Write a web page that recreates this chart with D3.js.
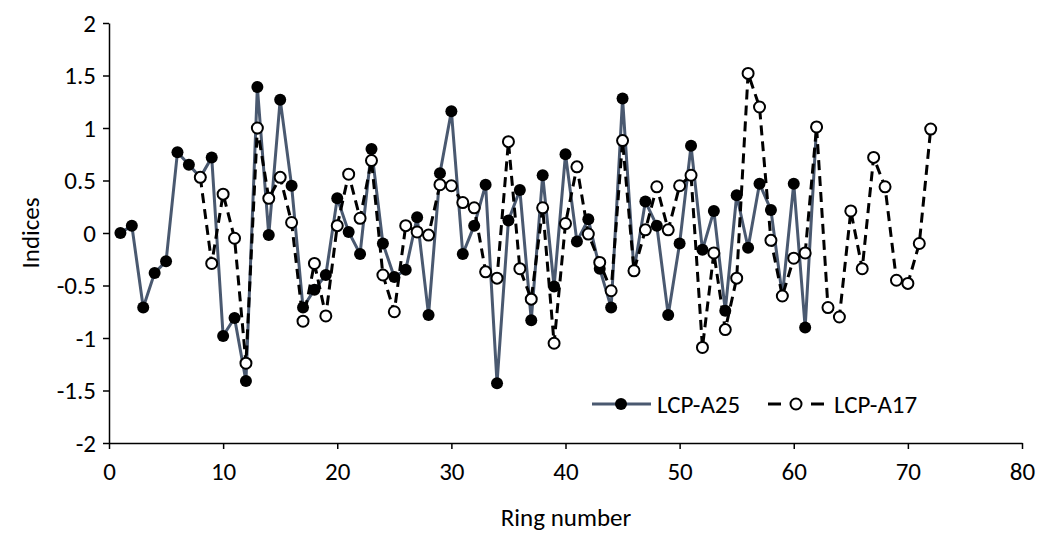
<!DOCTYPE html>
<meta charset="utf-8">
<style>
  body { margin: 0; background: #fff; }
  text { font-family: Carlito, Calibri, Lato, sans-serif; fill: #000; }
  .axis path, .axis line { stroke: #000; stroke-width: 1.5px; }
</style>
<svg width="1046" height="534"></svg>
<script src="https://d3js.org/d3.v7.min.js"></script>
<script>
// ring numbers and index values
var ringsA25 = d3.range(1, 63);
var valuesA25 = [
  0, 0.07, -0.71, -0.38, -0.27, 0.77, 0.65, 0.53, 0.72, -0.98,
  -0.81, -1.41, 1.39, -0.02, 1.27, 0.45, -0.71, -0.54, -0.40, 0.33,
  0.01, -0.20, 0.80, -0.10, -0.42, -0.35, 0.15, -0.78, 0.57, 1.16,
  -0.20, 0.07, 0.46, -1.43, 0.12, 0.41, -0.83, 0.55, -0.51, 0.75,
  -0.08, 0.13, -0.34, -0.71, 1.28, -0.36, 0.30, 0.07, -0.78, -0.10,
  0.83, -0.16, 0.21, -0.74, 0.36, -0.14, 0.47, 0.22, -0.60, 0.47,
  -0.90, 1.01
];
var ringsA17 = d3.range(8, 73);
var valuesA17 = [
  0.53, -0.29, 0.37, -0.05, -1.24, 1.00, 0.33, 0.53, 0.10, -0.84,
  -0.29, -0.79, 0.07, 0.56, 0.14, 0.69, -0.40, -0.75, 0.07, 0.01,
  -0.02, 0.46, 0.45, 0.29, 0.24, -0.37, -0.43, 0.87, -0.34, -0.63,
  0.24, -1.05, 0.09, 0.63, -0.01, -0.28, -0.55, 0.88, -0.36, 0.03,
  0.44, 0.03, 0.45, 0.55, -1.09, -0.19, -0.92, -0.43, 1.52, 1.20,
  -0.07, -0.60, -0.24, -0.19, 1.01, -0.71, -0.80, 0.21, -0.34, 0.72,
  0.44, -0.45, -0.48, -0.10, 0.99
];
var xTicks = d3.range(0, 81, 10);
var yTicks = [-2, -1.5, -1, -0.5, 0, 0.5, 1, 1.5, 2];

var svg = d3.select("svg");
var x = d3.scaleLinear().domain([0, 80]).range([109, 1022]);
var y = d3.scaleLinear().domain([-2, 2]).range([443, 23]);

var seriesA25 = ringsA25.map((r, i) => [r, valuesA25[i]]);
var seriesA17 = ringsA17.map((r, i) => [r, valuesA17[i]]);

//axes
svg.append("g").attr("class", "axis")
   .attr("transform", "translate(0,443)")
   .call(d3.axisBottom(x).tickValues(xTicks).tickSize(6).tickPadding(13).tickSizeOuter(0))
   .call(g => g.selectAll("text").attr("font-size", 25));
svg.append("g").attr("class", "axis")
   .attr("transform", "translate(109,0)")
   .call(d3.axisLeft(y).tickValues(yTicks).tickSize(6).tickPadding(7).tickSizeOuter(0)
           .tickFormat(d => String(d)))
   .call(g => g.selectAll("text").attr("font-size", 25));

var line = d3.line().x(d => x(d[0])).y(d => y(d[1]));

//LCP-A25: solid slate line, filled markers
svg.append("path").datum(seriesA25)
   .attr("d", line).attr("fill", "none")
   .attr("stroke", "#4a5970").attr("stroke-width", 3);
svg.append("g").selectAll("circle").data(seriesA25).enter().append("circle")
   .attr("cx", d => x(d[0])).attr("cy", d => y(d[1])).attr("r", 6)
   .attr("fill", "#000");

//LCP-A17: dashed black line, open markers
svg.append("path").datum(seriesA17)
   .attr("d", line).attr("fill", "none")
   .attr("stroke", "#000").attr("stroke-width", 3)
   .attr("stroke-dasharray", "10,6");
svg.append("g").selectAll("circle").data(seriesA17).enter().append("circle")
   .attr("cx", d => x(d[0])).attr("cy", d => y(d[1])).attr("r", 5.5)
   .attr("fill", "#fff").attr("stroke", "#000").attr("stroke-width", 2);

//axis titles
svg.append("text").attr("x", 566).attr("y", 526)
   .attr("text-anchor", "middle").attr("font-size", 25).text("Ring number");
svg.append("text").attr("transform", "translate(30,233) rotate(-90)")
   .attr("text-anchor", "middle").attr("dy", "0.35em").attr("font-size", 25).text("Indices");

//legend
var lg = svg.append("g");
lg.append("line").attr("x1", 592).attr("x2", 651).attr("y1", 404).attr("y2", 404)
  .attr("stroke", "#4a5970").attr("stroke-width", 3);
lg.append("circle").attr("cx", 621).attr("cy", 404).attr("r", 6).attr("fill", "#000");
lg.append("text").attr("x", 657).attr("y", 413).attr("font-size", 25).text("LCP-A25");
lg.append("line").attr("x1", 768).attr("x2", 824).attr("y1", 404).attr("y2", 404)
  .attr("stroke", "#000").attr("stroke-width", 3).attr("stroke-dasharray", "13,30,13");
lg.append("circle").attr("cx", 796).attr("cy", 404).attr("r", 5.5)
  .attr("fill", "#fff").attr("stroke", "#000").attr("stroke-width", 2);
lg.append("text").attr("x", 834).attr("y", 413).attr("font-size", 25).text("LCP-A17");
</script>
